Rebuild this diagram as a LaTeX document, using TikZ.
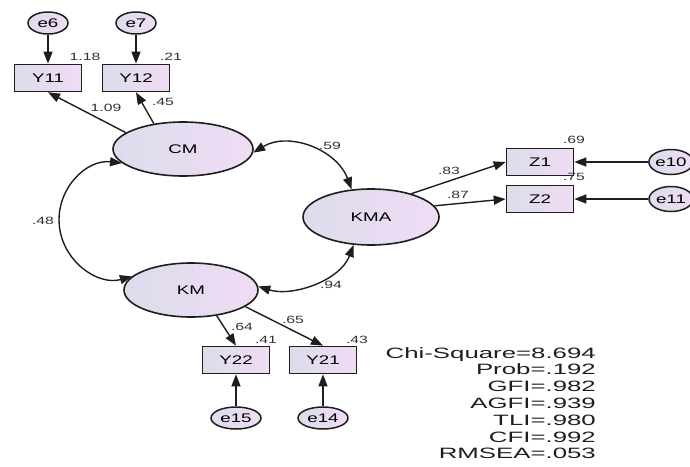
\documentclass[tikz,border=0pt]{standalone}
\usepackage{fontspec}
\setmainfont[FakeStretch=1.5]{Liberation Sans}
\newfontfamily\fitfont[FakeStretch=1.72]{Liberation Sans}
\usetikzlibrary{arrows.meta,shapes.geometric}
\definecolor{fillL}{RGB}{220,220,236}
\definecolor{fillR}{RGB}{240,220,245}
\definecolor{lbl}{RGB}{50,50,50}
\definecolor{ink}{RGB}{30,30,30}
\begin{document}
\begin{tikzpicture}[x=1pt,y=-1pt,
  lat/.style={ellipse,draw=ink,line width=1.6pt,left color=fillL,right color=fillR,inner sep=0pt,font=\fontsize{12.5}{14}\selectfont},
  obs/.style={rectangle,draw=ink,line width=1.6pt,left color=fillL,right color=fillR,minimum width=67pt,minimum height=27pt,inner sep=0pt,font=\fontsize{12.5}{14}\selectfont},
  err/.style={ellipse,draw=ink,line width=1.5pt,left color=fillL,right color=fillR,inner sep=0pt,font=\fontsize{12.5}{14}\selectfont},
  pth/.style={draw=ink,line width=1.4pt,-{Triangle[length=12pt,width=9pt]}},
  cov/.style={draw=ink,line width=1.4pt,{Triangle[length=12pt,width=9pt]}-{Triangle[length=12pt,width=9pt]}},
  lab/.style={font=\fontsize{10.5}{11}\selectfont,text=lbl,inner sep=0pt}
]
\useasboundingbox (0,0) rectangle (690,466);

% latent variables
\node[lat,minimum width=140pt,minimum height=54pt] (CM) at (183,149) {CM};
\node[lat,minimum width=136pt,minimum height=56pt] (KMA) at (371,217) {KMA};
\node[lat,minimum width=134pt,minimum height=54pt] (KM) at (191,290) {KM};

% observed variables
\node[obs] (Y11) at (48,78) {Y11};
\node[obs] (Y12) at (136,78) {Y12};
\node[obs] (Z1) at (540,162) {Z1};
\node[obs] (Z2) at (540,199) {Z2};
\node[obs] (Y22) at (236,360) {Y22};
\node[obs] (Y21) at (323,360) {Y21};

% error terms
\node[err,minimum width=40pt,minimum height=22pt] (e6) at (48,23) {e6};
\node[err,minimum width=40pt,minimum height=22pt] (e7) at (136,23) {e7};
\node[err,minimum width=44pt,minimum height=25pt] (e10) at (671,162) {e10};
\node[err,minimum width=44pt,minimum height=25pt] (e11) at (671,199) {e11};
\node[err,minimum width=50pt,minimum height=22pt] (e15) at (236,418) {e15};
\node[err,minimum width=50pt,minimum height=22pt] (e14) at (323,418) {e14};

% paths
\draw[pth] (e6) -- (Y11);
\draw[pth] (e7) -- (Y12);
\draw[pth] (e10) -- (Z1);
\draw[pth] (e11) -- (Z2);
\draw[pth] (e15) -- (Y22);
\draw[pth] (e14) -- (Y21);
\draw[pth] (CM.164) -- (Y11.south);
\draw[pth] (CM.139) -- (Y12.south);
\draw[pth] (KMA.30) -- (Z1.west);
\draw[pth] (KMA.10) -- (Z2.west);
\draw[pth] (KM.-45) -- (Y22.north);
\draw[pth] (KM.-17) -- (Y21.north);

% covariances
\draw[cov] (CM.193) .. controls (85.8,159) and (55.8,189.5) .. (59.3,225.6)
  .. controls (62.8,261.7) and (98.1,285.9) .. (KM.167);
\draw[cov] (CM.-3) .. controls (288.4,131.2) and (336.5,149.1) .. (KMA.125);
\draw[cov] (KM.3) .. controls (292,297) and (340,281) .. (KMA.238);

% labels
\node[lab] (l118) at (85,57) {1.18};
\node[lab] (l21) at (171,57) {.21};
\node[lab] (l109) at (106,108) {1.09};
\node[lab] (l45) at (163,102) {.45};
\node[lab] (l59) at (330,146) {.59};
\node[lab] (l83) at (449,171) {.83};
\node[lab] (l87) at (458,195) {.87};
\node[lab] (l69) at (574,140) {.69};
\node[lab] (l75) at (574,177) {.75};
\node[lab] (l48) at (43,221) {.48};
\node[lab] (l94) at (331,285) {.94};
\node[lab] (l64) at (242,327) {.64};
\node[lab] (l65) at (293,320) {.65};
\node[lab] (l41) at (266,340) {.41};
\node[lab] (l43) at (357,340) {.43};

% fit indices
\node[anchor=north east,align=right,inner sep=0pt,text=ink,font=\fitfont\fontsize{15}{16.8}\selectfont] (fit) at (596,347)
  {Chi-Square=8.694\\Prob=.192\\GFI=.982\\AGFI=.939\\TLI=.980\\CFI=.992\\RMSEA=.053};
\end{tikzpicture}
\end{document}
